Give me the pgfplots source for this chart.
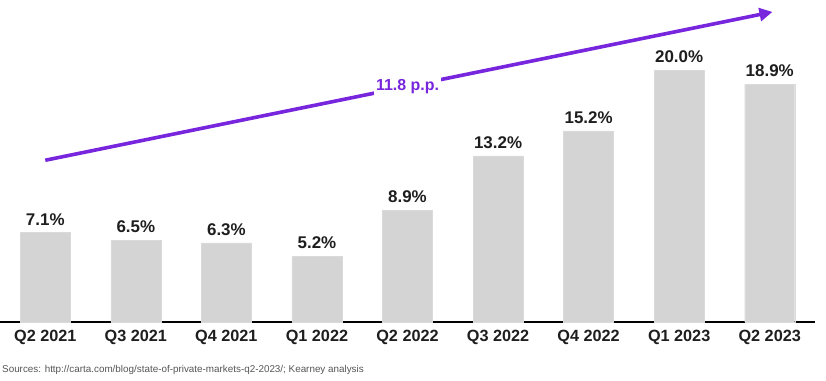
\documentclass[border=0pt]{standalone}
\usepackage{pgfplots}
\pgfplotsset{compat=1.18}
\usepackage{fontspec}
\setmainfont{Liberation Sans}
\usetikzlibrary{arrows.meta}
\definecolor{barg}{RGB}{212,212,212}
\definecolor{kpurple}{RGB}{120,38,222}
\definecolor{txt}{RGB}{30,30,30}
\definecolor{src}{RGB}{85,85,85}
\begin{document}
\begin{tikzpicture}[x=1bp,y=1bp]
\begin{axis}[
  at={(0,-322bp)}, anchor=south west,
  scale only axis, width=815bp, height=322bp,
  xmin=-0.5, xmax=8.5, ymin=0, ymax=25.6,
  axis y line=none, axis x line*=bottom,
  axis line style={black, line width=1.2pt},
  x axis line style={-},
  /pgf/number format/assume math mode=true,
  xtick=data, xticklabels={Q2 2021,Q3 2021,Q4 2021,Q1 2022,Q2 2022,Q3 2022,Q4 2022,Q1 2023,Q2 2023},
  major tick length=0pt,
  xticklabel style={font=\fontsize{16.3}{18}\selectfont\bfseries, text=txt, yshift=-5bp},
  ybar, bar width=50bp,
  nodes near coords={\pgfmathprintnumber[fixed,fixed zerofill,precision=1,assume math mode=true]{\pgfplotspointmeta}\%},
  nodes near coords style={font=\fontsize{17}{19}\selectfont\bfseries, text=txt, yshift=4bp},
  clip=false,
]
\addplot[fill=barg, draw=barg!85!white] coordinates {(0,7.1) (1,6.5) (2,6.3) (3,5.2) (4,8.9) (5,13.2) (6,15.2) (7,20.0) (8,18.9)};
\draw[kpurple, line width=3.6bp, -{Triangle[length=13bp,width=13bp]}] (axis cs:0,12.86) -- (axis cs:8.03,24.65);
\node[fill=white, inner sep=2.5bp, text=kpurple, font=\fontsize{16}{18}\selectfont\bfseries] at (axis cs:4.0,18.7) {11.8 p.p.};
\end{axis}
\node[anchor=base west, text=src, font=\fontsize{9.9}{11}\selectfont, inner sep=0pt] at (2bp,-372bp) {Sources: http://carta.com/blog/state-of-private-markets-q2-2023/; Kearney analysis};
\pgfresetboundingbox
\path[use as bounding box] (0,0) rectangle (826bp,-381bp);
\end{tikzpicture}
\end{document}
